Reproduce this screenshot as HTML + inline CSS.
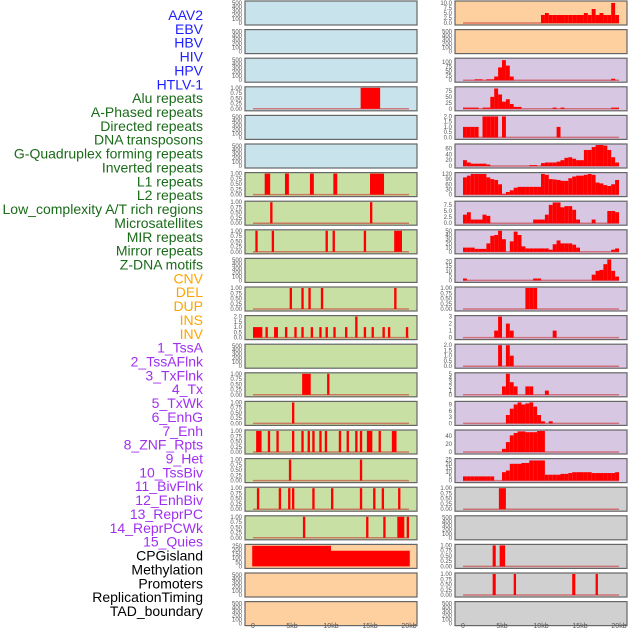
<!DOCTYPE html>
<html><head><meta charset="utf-8"><style>
body{margin:0;background:#fff;}
svg{display:block;font-family:"Liberation Sans",sans-serif;}
</style></head><body>
<svg id="chart" width="630" height="630" viewBox="0 0 630 630" xmlns="http://www.w3.org/2000/svg"></svg>
<script>
const rowLabels=["AAV2","EBV","HBV","HIV","HPV","HTLV-1","Alu repeats","A-Phased repeats","Directed repeats","DNA transposons","G-Quadruplex forming repeats","Inverted repeats","L1 repeats","L2 repeats","Low_complexity A/T rich regions","Microsatellites","MIR repeats","Mirror repeats","Z-DNA motifs","CNV","DEL","DUP","INS","INV","1_TssA","2_TssAFlnk","3_TxFlnk","4_Tx","5_TxWk","6_EnhG","7_Enh","8_ZNF_Rpts","9_Het","10_TssBiv","11_BivFlnk","12_EnhBiv","13_ReprPC","14_ReprPCWk","15_Quies","CPGisland","Methylation","Promoters","ReplicationTiming","TAD_boundary"];
const labelGroupSizes=[6,13,5,15,5];
const labelGroupColors=["#1f1fff","#1a6b1a","#ffa500","#a030f0","#000000"];
const kbTicks=[0,5,10,15,20];
const kbTickLabels=["0","5kb","10kb","15kb","20kb"];
const leftBg=["#c9e3ec","#c9e3ec","#c9e3ec","#c9e3ec","#c9e3ec","#c9e3ec","#c8e0a4","#c8e0a4","#c8e0a4","#c8e0a4","#c8e0a4","#c8e0a4","#c8e0a4","#c8e0a4","#c8e0a4","#c8e0a4","#c8e0a4","#c8e0a4","#c8e0a4","#fecf9f","#fecf9f","#fecf9f"];
const rightBg=["#fecf9f","#fecf9f","#d7c7e3","#d7c7e3","#d7c7e3","#d7c7e3","#d7c7e3","#d7c7e3","#d7c7e3","#d7c7e3","#d7c7e3","#d7c7e3","#d7c7e3","#d7c7e3","#d7c7e3","#d7c7e3","#d7c7e3","#d0d0d0","#d0d0d0","#d0d0d0","#d0d0d0","#d0d0d0"];
const E=[0,100,200,300,400,500], U=[0,0.25,0.5,0.75,1], T2=[0,0.5,1,1.5,2];
const leftTicks=[E,E,E,U,E,E,U,U,U,E,U,T2,E,U,U,U,U,U,U,[0,50,100,150,200,250],E,E];
const leftMax=[520,520,520,1,520,520,1,1,1,520,1,2,520,1,1,1,1,1,1,255,520,520];
const rightTicks=[[0,2.5,5,7.5,10],E,[0,25,50,75,100],[0,25,50,75],T2,[0,20,40,60],[0,30,60,90,120],[0,2.5,5,7.5],[0,10,20,30,40,50],[0,5,10,15,20],U,[0,1,2,3],T2,[0,1,2,3,4,5],[0,3,6,9],[0,20,40],[0,5,10,15,20,25],U,E,U,U,E];
const rightMax=[10.5,520,115,88,2,72,122,8.6,50,22,1,3,2,5,10,53,25,1,520,1,1,520];
// left tracks: [startKb,endKb,value]
const leftSegs=[[],[],[],[[13.8,16.3,1]],[],[],
[[1.5,2.2,1],[4.1,4.6,1],[7.3,7.8,1],[10.3,10.8,1],[15.0,16.8,1]],
[[2.2,2.5,1],[15.0,15.3,1]],
[[0.3,0.6,1],[2.4,2.7,1],[9.3,9.6,1],[10.2,10.5,1],[14.2,14.5,1],[18.1,19.1,1]],
[],
[[4.7,5.0,1],[6.2,6.5,1],[7.1,7.4,1],[8.7,9.0,1],[18.1,18.4,1]],
[[0,1.2,1],[1.6,1.9,1],[2.7,3.2,1],[4.1,4.4,1],[5.3,5.6,1],[6.2,6.5,1],[7.4,7.7,1],[8.5,8.8,1],[9.3,9.6,1],[10.3,10.6,1],[11.8,12.1,1],[13.1,13.4,2],[14.2,14.5,1],[15.2,15.5,1],[16.6,16.9,1],[17.3,17.6,1],[19.6,19.9,1]],
[],
[[6.3,7.4,1],[9.5,9.8,1]],
[[5.0,5.3,1]],
[[0.4,1.1,1],[1.9,2.2,1],[3.0,3.3,1],[5.0,5.3,1],[6.2,6.5,1],[7.0,7.3,1],[7.6,7.9,1],[8.5,8.8,1],[9.2,9.5,1],[11.0,11.3,1],[12.0,12.3,1],[13.1,13.4,1],[13.7,14.0,1],[14.6,15.3,1],[16.1,16.4,1],[17.8,18.4,1]],
[[4.6,4.9,1],[13.7,14.0,1]],
[[0.5,0.8,1],[3.3,3.6,1],[4.5,4.8,1],[5.0,5.3,1],[7.6,7.9,1],[10.0,10.3,1],[13.7,14.0,1],[15.4,15.7,1],[16.5,16.8,1],[18.6,18.9,1]],
[[6.4,6.7,1],[14.5,14.8,1],[16.7,17.0,1],[18.5,19.4,1],[19.7,20.0,1]],
[[-0.1,10,250],[10,20.1,190]],
[],[]];
// right tracks: histogram values in 0.5kb bins (40 bins), or null
const binAAV2=[0,0,0,0,0,0,0,0,0,0,0,0,0,0,0,0,0,0,0,0,4,5,4,4,4,4,4,4,4,4,4,5,4,7,4,5,4,4,10,4];
const binHBV=[0,0,0,5,5,0,5,5,20,70,110,80,20,0,0,0,0,0,0,0,0,0,0,0,0,0,0,0,0,0,0,0,0,0,0,0,0,0,8,0];
const binHIV=[5,5,5,5,0,5,5,50,85,60,30,40,20,8,8,0,0,0,0,0,0,0,0,5,0,5,0,0,0,0,0,0,0,0,0,0,0,0,5,5];
const binHPV=[1,1,1,1,0,2,2,2,2,0,2,0,0,0,0,0,0,0,0,0,0,0,0,0,1,0,0,0,0,0,0,0,0,0,0,0,0,0,0,0];
const binHTLV=[20,12,8,8,8,8,5,0,0,0,0,0,0,0,0,0,0,3,3,0,10,12,12,12,15,20,28,30,25,20,20,55,55,65,72,72,70,55,30,12];
const binAlu=[100,110,120,120,120,120,100,90,85,60,5,15,25,40,45,45,45,45,45,45,120,115,90,88,85,80,80,95,105,110,110,115,120,115,70,65,55,50,60,85];
const binAPhased=[3.5,4.5,1.5,1.5,1.5,3.5,3,0,0,0,0,0,0,0,0,0,0,0,1.5,1.5,1.5,3.5,7.5,8.5,8.5,6.5,7,7,5.5,1.5,0,0,0,1.5,0,0,0,5,5,4.5];
const binDirected=[10,10,10,7,7,7,20,38,40,50,30,0,25,48,40,13,8,8,8,8,8,8,5,18,27,20,20,20,17,10,0,0,0,0,0,0,0,0,5,8];
const binDNA=[2,0,0,0,0,0,0,0,0,0,0,0,0,0,0,0,0,0,2,2,0,0,0,0,0,0,0,0,0,0,0,0,0,6,10,11,17,22,10,4];
const binInverted=[0,0,0,0,0,0,0,0,0,0,0,0,0,0,0,0,1,1,1,0,0,0,0,0,0,0,0,0,0,0,0,0,0,0,0,0,0,0,0,0];
const binL1=[0,0,0,0,0,0,0,0,1,3,0,2,1,0,0,0,0,0,0,0,0,0,0,1,0,0,0,0,0,0,0,0,0,0,0,0,0,0,0,0];
const binL2=[0,0,0,0,0,0,0,0,0,2,0,2,1,0,0,0,0,0,0,0,0,0,0,0,0,0,0,0,0,0,0,0,0,0,0,0,0,0,0,0];
const binLowComp=[0,0,0,0,0,0,0,0,0,0,2,5,3,2,0,0,2,2,0,0,0,1,0,0,0,0,0,0,0,0,0,0,0,0,0,0,0,0,0,0];
const binMicro=[0,0,0,0,0,0,0,0,0,0,0,4,7,9,10,9,9.5,10,8,4,1,0,1,0,0,0,0,0,0,0,0,0,0,0,0,0,0,0,0,0];
const binMIR=[0,0,0,0,0,0,0,0,0,0,8,25,42,48,52,52,50,50,50,53,53,0,0,0,0,0,0,0,0,0,0,0,0,0,0,0,0,0,0,0];
const binMirror=[5,5,5,5,5,5,5,5,0,0,10,12,20,20,20,21,21,24,24,24,24,7,7,7,7,8,8,9,10,10,10,10,10,9,9,9,9,9,9,10];
const rightBins=[binAAV2,null,binHBV,binHIV,binHPV,binHTLV,binAlu,binAPhased,binDirected,binDNA,binInverted,binL1,binL2,binLowComp,binMicro,binMIR,binMirror,null,null,null,null,null];
const rightSegs=[[],[],[],[],[],[],[],[],[],[],[],[],[],[],[],[],[],[[4.6,5.5,1]],[],[[3.8,4.2,1],[4.7,5.4,1]],[[3.8,4.2,1],[6.5,6.8,1],[14.0,14.4,1],[17.0,17.3,1]],[]];

const NS="http://www.w3.org/2000/svg";
const svg=document.getElementById('chart');
function mk(tag,attrs,parent){const e=document.createElementNS(NS,tag);for(const k in attrs)e.setAttribute(k,attrs[k]);(parent||svg).appendChild(e);return e;}
const ROW0=1, ROWSTEP=28.6, PH=24, PW=172;
const colX=[245,455], kbX0=[253,463], KB=7.8;
function xScale(col,kb){return kbX0[col]+kb*KB;}
function yScale(r,v,max){const top=ROW0+r*ROWSTEP;return top+PH-2-(v/max)*(PH-3);}
function fmt(t,ticks){const mx=ticks[ticks.length-1];if(mx===1)return t.toFixed(2);if(mx===2||mx===10||mx===7.5)return t.toFixed(1);return String(t);}

// labels
let li=0;
labelGroupSizes.forEach((n,g)=>{for(let k=0;k<n;k++){const t=mk('text',{x:203,y:15+li*13.86+5,'text-anchor':'end','font-size':14,fill:labelGroupColors[g]});t.textContent=rowLabels[li];

li++;}});

function panel(col,r,bg,ticks,max){
  const g=mk('g',{});
  
  
  const top=ROW0+r*ROWSTEP;
  mk('rect',{x:colX[col],y:top,width:PW,height:PH,fill:bg,stroke:'#666','stroke-width':1.2},g);
  ticks.forEach(t=>{const tx=mk('text',{x:colX[col]-3,y:yScale(r,t,max)+2,'text-anchor':'end','font-size':6,fill:'#555'},g);tx.textContent=fmt(t,ticks);
  
  });
  return g;
}
function drawSegs(g,col,r,segs,max){
  segs.forEach(s=>{const x1=xScale(col,s[0]),x2=xScale(col,s[1]);const y=yScale(r,s[2],max);const y0=yScale(r,0,max);
  const b=mk('rect',{x:x1,y:y,width:Math.max(1,x2-x1),height:y0-y,fill:'#ff0000'},g);
  
  });
}
function baseline(g,col,r,max,show){if(!show)return;const y=yScale(r,0,max);mk('line',{x1:xScale(col,0),x2:xScale(col,20),y1:y,y2:y,stroke:'rgba(200,40,40,0.55)','stroke-width':1.5},g);}
for(let r=0;r<22;r++){
  const gl=panel(0,r,leftBg[r],leftTicks[r],leftMax[r]);
  baseline(gl,0,r,leftMax[r],leftMax[r]<=2);
  drawSegs(gl,0,r,leftSegs[r],leftMax[r]);
  const gr=panel(1,r,rightBg[r],rightTicks[r],rightMax[r]);
  baseline(gr,1,r,rightMax[r],rightMax[r]<500);
  if(rightBins[r]){const segs=rightBins[r].map((v,i)=>[i*0.5,i*0.5+0.5,v]).filter(s=>s[2]>0);drawSegs(gr,1,r,segs,rightMax[r]);}
  drawSegs(gr,1,r,rightSegs[r],rightMax[r]);
}
// x axes
[0,1].forEach(col=>{kbTicks.forEach((k,i)=>{const t=mk('text',{x:xScale(col,k),y:628,'text-anchor':'middle','font-size':7,fill:'#555'});t.textContent=kbTickLabels[i];

});});
</script>
</body></html>
